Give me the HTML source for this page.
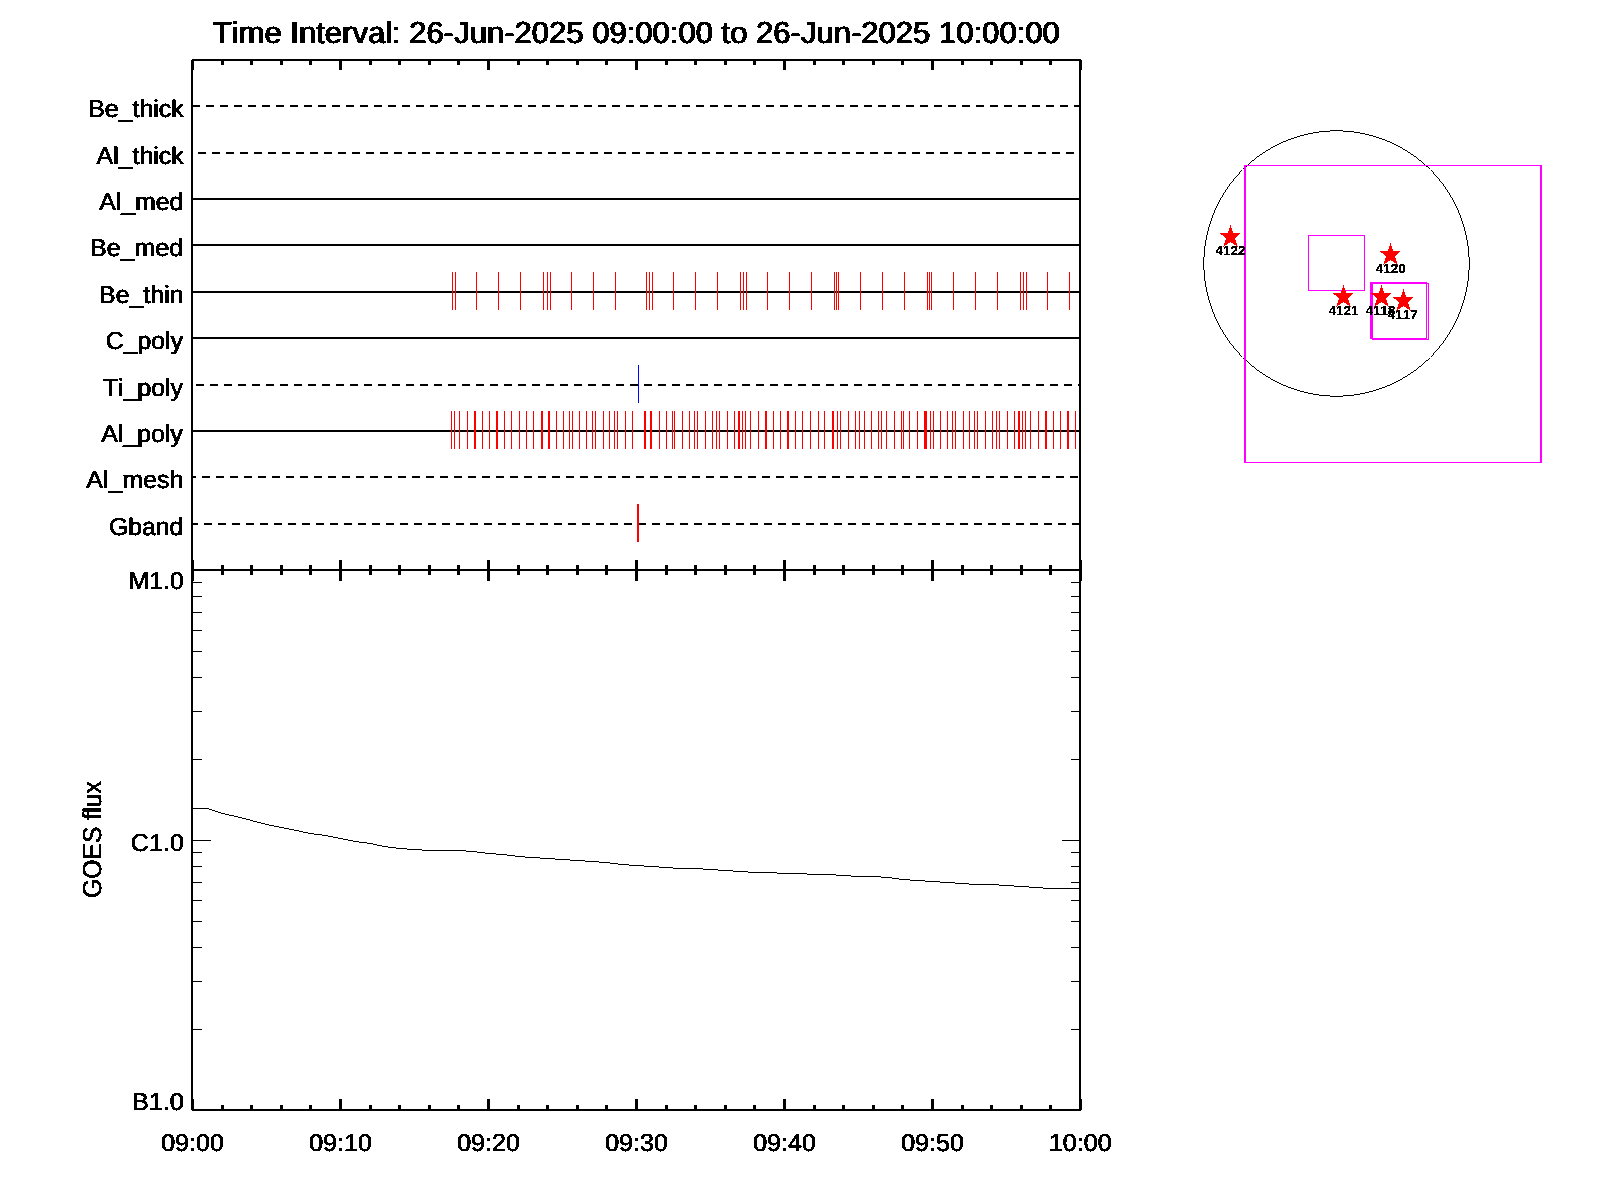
<!DOCTYPE html>
<html><head><meta charset="utf-8"><title>Time Interval plot</title>
<style>
html,body{margin:0;padding:0;background:#fff;}
body{width:1600px;height:1200px;overflow:hidden;font-family:"Liberation Sans",sans-serif;}
svg{display:block;}
text{font-family:"Liberation Sans",sans-serif;fill:#000;font-kerning:none;text-rendering:geometricPrecision;}
</style></head><body>
<svg width="1600" height="1200" viewBox="0 0 1600 1200">
<rect x="0" y="0" width="1600" height="1200" fill="#ffffff"/>
<g shape-rendering="crispEdges">
<rect x="191" y="59" width="2" height="1052" fill="#000"/>
<rect x="1079" y="59" width="2" height="1052" fill="#000"/>
<rect x="191" y="59" width="890" height="2" fill="#000"/>
<rect x="191" y="569" width="890" height="2" fill="#000"/>
<rect x="191" y="1109" width="890" height="2" fill="#000"/>
<rect x="191" y="60" width="3" height="10" fill="#000"/>
<rect x="191" y="560" width="3" height="21" fill="#000"/>
<rect x="191" y="1099" width="3" height="11" fill="#000"/>
<rect x="221" y="61" width="3" height="4" fill="#000"/>
<rect x="221" y="565" width="3" height="10" fill="#000"/>
<rect x="221" y="1105" width="3" height="4" fill="#000"/>
<rect x="250" y="61" width="3" height="4" fill="#000"/>
<rect x="250" y="565" width="3" height="10" fill="#000"/>
<rect x="250" y="1105" width="3" height="4" fill="#000"/>
<rect x="280" y="61" width="3" height="4" fill="#000"/>
<rect x="280" y="565" width="3" height="10" fill="#000"/>
<rect x="280" y="1105" width="3" height="4" fill="#000"/>
<rect x="309" y="61" width="3" height="4" fill="#000"/>
<rect x="309" y="565" width="3" height="10" fill="#000"/>
<rect x="309" y="1105" width="3" height="4" fill="#000"/>
<rect x="339" y="60" width="3" height="10" fill="#000"/>
<rect x="339" y="560" width="3" height="21" fill="#000"/>
<rect x="339" y="1099" width="3" height="11" fill="#000"/>
<rect x="369" y="61" width="3" height="4" fill="#000"/>
<rect x="369" y="565" width="3" height="10" fill="#000"/>
<rect x="369" y="1105" width="3" height="4" fill="#000"/>
<rect x="398" y="61" width="3" height="4" fill="#000"/>
<rect x="398" y="565" width="3" height="10" fill="#000"/>
<rect x="398" y="1105" width="3" height="4" fill="#000"/>
<rect x="428" y="61" width="3" height="4" fill="#000"/>
<rect x="428" y="565" width="3" height="10" fill="#000"/>
<rect x="428" y="1105" width="3" height="4" fill="#000"/>
<rect x="457" y="61" width="3" height="4" fill="#000"/>
<rect x="457" y="565" width="3" height="10" fill="#000"/>
<rect x="457" y="1105" width="3" height="4" fill="#000"/>
<rect x="487" y="60" width="3" height="10" fill="#000"/>
<rect x="487" y="560" width="3" height="21" fill="#000"/>
<rect x="487" y="1099" width="3" height="11" fill="#000"/>
<rect x="517" y="61" width="3" height="4" fill="#000"/>
<rect x="517" y="565" width="3" height="10" fill="#000"/>
<rect x="517" y="1105" width="3" height="4" fill="#000"/>
<rect x="546" y="61" width="3" height="4" fill="#000"/>
<rect x="546" y="565" width="3" height="10" fill="#000"/>
<rect x="546" y="1105" width="3" height="4" fill="#000"/>
<rect x="576" y="61" width="3" height="4" fill="#000"/>
<rect x="576" y="565" width="3" height="10" fill="#000"/>
<rect x="576" y="1105" width="3" height="4" fill="#000"/>
<rect x="605" y="61" width="3" height="4" fill="#000"/>
<rect x="605" y="565" width="3" height="10" fill="#000"/>
<rect x="605" y="1105" width="3" height="4" fill="#000"/>
<rect x="635" y="60" width="3" height="10" fill="#000"/>
<rect x="635" y="560" width="3" height="21" fill="#000"/>
<rect x="635" y="1099" width="3" height="11" fill="#000"/>
<rect x="665" y="61" width="3" height="4" fill="#000"/>
<rect x="665" y="565" width="3" height="10" fill="#000"/>
<rect x="665" y="1105" width="3" height="4" fill="#000"/>
<rect x="694" y="61" width="3" height="4" fill="#000"/>
<rect x="694" y="565" width="3" height="10" fill="#000"/>
<rect x="694" y="1105" width="3" height="4" fill="#000"/>
<rect x="724" y="61" width="3" height="4" fill="#000"/>
<rect x="724" y="565" width="3" height="10" fill="#000"/>
<rect x="724" y="1105" width="3" height="4" fill="#000"/>
<rect x="753" y="61" width="3" height="4" fill="#000"/>
<rect x="753" y="565" width="3" height="10" fill="#000"/>
<rect x="753" y="1105" width="3" height="4" fill="#000"/>
<rect x="783" y="60" width="3" height="10" fill="#000"/>
<rect x="783" y="560" width="3" height="21" fill="#000"/>
<rect x="783" y="1099" width="3" height="11" fill="#000"/>
<rect x="813" y="61" width="3" height="4" fill="#000"/>
<rect x="813" y="565" width="3" height="10" fill="#000"/>
<rect x="813" y="1105" width="3" height="4" fill="#000"/>
<rect x="842" y="61" width="3" height="4" fill="#000"/>
<rect x="842" y="565" width="3" height="10" fill="#000"/>
<rect x="842" y="1105" width="3" height="4" fill="#000"/>
<rect x="872" y="61" width="3" height="4" fill="#000"/>
<rect x="872" y="565" width="3" height="10" fill="#000"/>
<rect x="872" y="1105" width="3" height="4" fill="#000"/>
<rect x="901" y="61" width="3" height="4" fill="#000"/>
<rect x="901" y="565" width="3" height="10" fill="#000"/>
<rect x="901" y="1105" width="3" height="4" fill="#000"/>
<rect x="931" y="60" width="3" height="10" fill="#000"/>
<rect x="931" y="560" width="3" height="21" fill="#000"/>
<rect x="931" y="1099" width="3" height="11" fill="#000"/>
<rect x="961" y="61" width="3" height="4" fill="#000"/>
<rect x="961" y="565" width="3" height="10" fill="#000"/>
<rect x="961" y="1105" width="3" height="4" fill="#000"/>
<rect x="990" y="61" width="3" height="4" fill="#000"/>
<rect x="990" y="565" width="3" height="10" fill="#000"/>
<rect x="990" y="1105" width="3" height="4" fill="#000"/>
<rect x="1020" y="61" width="3" height="4" fill="#000"/>
<rect x="1020" y="565" width="3" height="10" fill="#000"/>
<rect x="1020" y="1105" width="3" height="4" fill="#000"/>
<rect x="1049" y="61" width="3" height="4" fill="#000"/>
<rect x="1049" y="565" width="3" height="10" fill="#000"/>
<rect x="1049" y="1105" width="3" height="4" fill="#000"/>
<rect x="1079" y="60" width="3" height="10" fill="#000"/>
<rect x="1079" y="560" width="3" height="21" fill="#000"/>
<rect x="1079" y="1099" width="3" height="11" fill="#000"/>
<rect x="191" y="59" width="1" height="1" fill="#fff"/>
<rect x="191" y="1110" width="1" height="1" fill="#fff"/>
<rect x="193" y="105" width="7" height="2" fill="#000"/>
<rect x="206" y="105" width="8" height="2" fill="#000"/>
<rect x="220" y="105" width="8" height="2" fill="#000"/>
<rect x="234" y="105" width="8" height="2" fill="#000"/>
<rect x="248" y="105" width="8" height="2" fill="#000"/>
<rect x="262" y="105" width="8" height="2" fill="#000"/>
<rect x="276" y="105" width="8" height="2" fill="#000"/>
<rect x="290" y="105" width="8" height="2" fill="#000"/>
<rect x="304" y="105" width="8" height="2" fill="#000"/>
<rect x="318" y="105" width="8" height="2" fill="#000"/>
<rect x="332" y="105" width="8" height="2" fill="#000"/>
<rect x="346" y="105" width="8" height="2" fill="#000"/>
<rect x="360" y="105" width="8" height="2" fill="#000"/>
<rect x="374" y="105" width="8" height="2" fill="#000"/>
<rect x="388" y="105" width="8" height="2" fill="#000"/>
<rect x="402" y="105" width="8" height="2" fill="#000"/>
<rect x="416" y="105" width="8" height="2" fill="#000"/>
<rect x="430" y="105" width="8" height="2" fill="#000"/>
<rect x="444" y="105" width="8" height="2" fill="#000"/>
<rect x="458" y="105" width="8" height="2" fill="#000"/>
<rect x="472" y="105" width="8" height="2" fill="#000"/>
<rect x="486" y="105" width="8" height="2" fill="#000"/>
<rect x="500" y="105" width="8" height="2" fill="#000"/>
<rect x="514" y="105" width="8" height="2" fill="#000"/>
<rect x="528" y="105" width="8" height="2" fill="#000"/>
<rect x="542" y="105" width="8" height="2" fill="#000"/>
<rect x="556" y="105" width="8" height="2" fill="#000"/>
<rect x="570" y="105" width="8" height="2" fill="#000"/>
<rect x="584" y="105" width="8" height="2" fill="#000"/>
<rect x="598" y="105" width="8" height="2" fill="#000"/>
<rect x="612" y="105" width="8" height="2" fill="#000"/>
<rect x="626" y="105" width="8" height="2" fill="#000"/>
<rect x="640" y="105" width="8" height="2" fill="#000"/>
<rect x="654" y="105" width="8" height="2" fill="#000"/>
<rect x="668" y="105" width="8" height="2" fill="#000"/>
<rect x="682" y="105" width="8" height="2" fill="#000"/>
<rect x="696" y="105" width="8" height="2" fill="#000"/>
<rect x="710" y="105" width="8" height="2" fill="#000"/>
<rect x="724" y="105" width="8" height="2" fill="#000"/>
<rect x="738" y="105" width="8" height="2" fill="#000"/>
<rect x="752" y="105" width="8" height="2" fill="#000"/>
<rect x="766" y="105" width="8" height="2" fill="#000"/>
<rect x="780" y="105" width="8" height="2" fill="#000"/>
<rect x="794" y="105" width="8" height="2" fill="#000"/>
<rect x="808" y="105" width="8" height="2" fill="#000"/>
<rect x="822" y="105" width="8" height="2" fill="#000"/>
<rect x="836" y="105" width="8" height="2" fill="#000"/>
<rect x="850" y="105" width="8" height="2" fill="#000"/>
<rect x="864" y="105" width="8" height="2" fill="#000"/>
<rect x="878" y="105" width="8" height="2" fill="#000"/>
<rect x="892" y="105" width="8" height="2" fill="#000"/>
<rect x="906" y="105" width="8" height="2" fill="#000"/>
<rect x="920" y="105" width="8" height="2" fill="#000"/>
<rect x="934" y="105" width="8" height="2" fill="#000"/>
<rect x="948" y="105" width="8" height="2" fill="#000"/>
<rect x="962" y="105" width="8" height="2" fill="#000"/>
<rect x="976" y="105" width="8" height="2" fill="#000"/>
<rect x="990" y="105" width="8" height="2" fill="#000"/>
<rect x="1004" y="105" width="8" height="2" fill="#000"/>
<rect x="1018" y="105" width="8" height="2" fill="#000"/>
<rect x="1032" y="105" width="8" height="2" fill="#000"/>
<rect x="1046" y="105" width="8" height="2" fill="#000"/>
<rect x="1060" y="105" width="8" height="2" fill="#000"/>
<rect x="1074" y="105" width="5" height="2" fill="#000"/>
<rect x="198" y="152" width="8" height="2" fill="#000"/>
<rect x="212" y="152" width="8" height="2" fill="#000"/>
<rect x="226" y="152" width="8" height="2" fill="#000"/>
<rect x="240" y="152" width="8" height="2" fill="#000"/>
<rect x="254" y="152" width="8" height="2" fill="#000"/>
<rect x="268" y="152" width="8" height="2" fill="#000"/>
<rect x="282" y="152" width="8" height="2" fill="#000"/>
<rect x="296" y="152" width="8" height="2" fill="#000"/>
<rect x="310" y="152" width="8" height="2" fill="#000"/>
<rect x="324" y="152" width="8" height="2" fill="#000"/>
<rect x="338" y="152" width="8" height="2" fill="#000"/>
<rect x="352" y="152" width="8" height="2" fill="#000"/>
<rect x="366" y="152" width="8" height="2" fill="#000"/>
<rect x="380" y="152" width="8" height="2" fill="#000"/>
<rect x="394" y="152" width="8" height="2" fill="#000"/>
<rect x="408" y="152" width="8" height="2" fill="#000"/>
<rect x="422" y="152" width="8" height="2" fill="#000"/>
<rect x="436" y="152" width="8" height="2" fill="#000"/>
<rect x="450" y="152" width="8" height="2" fill="#000"/>
<rect x="464" y="152" width="8" height="2" fill="#000"/>
<rect x="478" y="152" width="8" height="2" fill="#000"/>
<rect x="492" y="152" width="8" height="2" fill="#000"/>
<rect x="506" y="152" width="8" height="2" fill="#000"/>
<rect x="520" y="152" width="8" height="2" fill="#000"/>
<rect x="534" y="152" width="8" height="2" fill="#000"/>
<rect x="548" y="152" width="8" height="2" fill="#000"/>
<rect x="562" y="152" width="8" height="2" fill="#000"/>
<rect x="576" y="152" width="8" height="2" fill="#000"/>
<rect x="590" y="152" width="8" height="2" fill="#000"/>
<rect x="604" y="152" width="8" height="2" fill="#000"/>
<rect x="618" y="152" width="8" height="2" fill="#000"/>
<rect x="632" y="152" width="8" height="2" fill="#000"/>
<rect x="646" y="152" width="8" height="2" fill="#000"/>
<rect x="660" y="152" width="8" height="2" fill="#000"/>
<rect x="674" y="152" width="8" height="2" fill="#000"/>
<rect x="688" y="152" width="8" height="2" fill="#000"/>
<rect x="702" y="152" width="8" height="2" fill="#000"/>
<rect x="716" y="152" width="8" height="2" fill="#000"/>
<rect x="730" y="152" width="8" height="2" fill="#000"/>
<rect x="744" y="152" width="8" height="2" fill="#000"/>
<rect x="758" y="152" width="8" height="2" fill="#000"/>
<rect x="772" y="152" width="8" height="2" fill="#000"/>
<rect x="786" y="152" width="8" height="2" fill="#000"/>
<rect x="800" y="152" width="8" height="2" fill="#000"/>
<rect x="814" y="152" width="8" height="2" fill="#000"/>
<rect x="828" y="152" width="8" height="2" fill="#000"/>
<rect x="842" y="152" width="8" height="2" fill="#000"/>
<rect x="856" y="152" width="8" height="2" fill="#000"/>
<rect x="870" y="152" width="8" height="2" fill="#000"/>
<rect x="884" y="152" width="8" height="2" fill="#000"/>
<rect x="898" y="152" width="8" height="2" fill="#000"/>
<rect x="912" y="152" width="8" height="2" fill="#000"/>
<rect x="926" y="152" width="8" height="2" fill="#000"/>
<rect x="940" y="152" width="8" height="2" fill="#000"/>
<rect x="954" y="152" width="8" height="2" fill="#000"/>
<rect x="968" y="152" width="8" height="2" fill="#000"/>
<rect x="982" y="152" width="8" height="2" fill="#000"/>
<rect x="996" y="152" width="8" height="2" fill="#000"/>
<rect x="1010" y="152" width="8" height="2" fill="#000"/>
<rect x="1024" y="152" width="8" height="2" fill="#000"/>
<rect x="1038" y="152" width="8" height="2" fill="#000"/>
<rect x="1052" y="152" width="8" height="2" fill="#000"/>
<rect x="1066" y="152" width="8" height="2" fill="#000"/>
<rect x="193" y="198" width="886" height="2" fill="#000"/>
<rect x="193" y="244" width="886" height="2" fill="#000"/>
<rect x="193" y="291" width="886" height="2" fill="#000"/>
<rect x="193" y="337" width="886" height="2" fill="#000"/>
<rect x="196" y="384" width="8" height="2" fill="#000"/>
<rect x="210" y="384" width="8" height="2" fill="#000"/>
<rect x="224" y="384" width="8" height="2" fill="#000"/>
<rect x="238" y="384" width="8" height="2" fill="#000"/>
<rect x="252" y="384" width="8" height="2" fill="#000"/>
<rect x="266" y="384" width="8" height="2" fill="#000"/>
<rect x="280" y="384" width="8" height="2" fill="#000"/>
<rect x="294" y="384" width="8" height="2" fill="#000"/>
<rect x="308" y="384" width="8" height="2" fill="#000"/>
<rect x="322" y="384" width="8" height="2" fill="#000"/>
<rect x="336" y="384" width="8" height="2" fill="#000"/>
<rect x="350" y="384" width="8" height="2" fill="#000"/>
<rect x="364" y="384" width="8" height="2" fill="#000"/>
<rect x="378" y="384" width="8" height="2" fill="#000"/>
<rect x="392" y="384" width="8" height="2" fill="#000"/>
<rect x="406" y="384" width="8" height="2" fill="#000"/>
<rect x="420" y="384" width="8" height="2" fill="#000"/>
<rect x="434" y="384" width="8" height="2" fill="#000"/>
<rect x="448" y="384" width="8" height="2" fill="#000"/>
<rect x="462" y="384" width="8" height="2" fill="#000"/>
<rect x="476" y="384" width="8" height="2" fill="#000"/>
<rect x="490" y="384" width="8" height="2" fill="#000"/>
<rect x="504" y="384" width="8" height="2" fill="#000"/>
<rect x="518" y="384" width="8" height="2" fill="#000"/>
<rect x="532" y="384" width="8" height="2" fill="#000"/>
<rect x="546" y="384" width="8" height="2" fill="#000"/>
<rect x="560" y="384" width="8" height="2" fill="#000"/>
<rect x="574" y="384" width="8" height="2" fill="#000"/>
<rect x="588" y="384" width="8" height="2" fill="#000"/>
<rect x="602" y="384" width="8" height="2" fill="#000"/>
<rect x="616" y="384" width="8" height="2" fill="#000"/>
<rect x="630" y="384" width="8" height="2" fill="#000"/>
<rect x="644" y="384" width="8" height="2" fill="#000"/>
<rect x="658" y="384" width="8" height="2" fill="#000"/>
<rect x="672" y="384" width="8" height="2" fill="#000"/>
<rect x="686" y="384" width="8" height="2" fill="#000"/>
<rect x="700" y="384" width="8" height="2" fill="#000"/>
<rect x="714" y="384" width="8" height="2" fill="#000"/>
<rect x="728" y="384" width="8" height="2" fill="#000"/>
<rect x="742" y="384" width="8" height="2" fill="#000"/>
<rect x="756" y="384" width="8" height="2" fill="#000"/>
<rect x="770" y="384" width="8" height="2" fill="#000"/>
<rect x="784" y="384" width="8" height="2" fill="#000"/>
<rect x="798" y="384" width="8" height="2" fill="#000"/>
<rect x="812" y="384" width="8" height="2" fill="#000"/>
<rect x="826" y="384" width="8" height="2" fill="#000"/>
<rect x="840" y="384" width="8" height="2" fill="#000"/>
<rect x="854" y="384" width="8" height="2" fill="#000"/>
<rect x="868" y="384" width="8" height="2" fill="#000"/>
<rect x="882" y="384" width="8" height="2" fill="#000"/>
<rect x="896" y="384" width="8" height="2" fill="#000"/>
<rect x="910" y="384" width="8" height="2" fill="#000"/>
<rect x="924" y="384" width="8" height="2" fill="#000"/>
<rect x="938" y="384" width="8" height="2" fill="#000"/>
<rect x="952" y="384" width="8" height="2" fill="#000"/>
<rect x="966" y="384" width="8" height="2" fill="#000"/>
<rect x="980" y="384" width="8" height="2" fill="#000"/>
<rect x="994" y="384" width="8" height="2" fill="#000"/>
<rect x="1008" y="384" width="8" height="2" fill="#000"/>
<rect x="1022" y="384" width="8" height="2" fill="#000"/>
<rect x="1036" y="384" width="8" height="2" fill="#000"/>
<rect x="1050" y="384" width="8" height="2" fill="#000"/>
<rect x="1064" y="384" width="8" height="2" fill="#000"/>
<rect x="1078" y="384" width="1" height="2" fill="#000"/>
<rect x="193" y="430" width="886" height="2" fill="#000"/>
<rect x="193" y="476" width="3" height="2" fill="#000"/>
<rect x="202" y="476" width="8" height="2" fill="#000"/>
<rect x="216" y="476" width="8" height="2" fill="#000"/>
<rect x="230" y="476" width="8" height="2" fill="#000"/>
<rect x="244" y="476" width="8" height="2" fill="#000"/>
<rect x="258" y="476" width="8" height="2" fill="#000"/>
<rect x="272" y="476" width="8" height="2" fill="#000"/>
<rect x="286" y="476" width="8" height="2" fill="#000"/>
<rect x="300" y="476" width="8" height="2" fill="#000"/>
<rect x="314" y="476" width="8" height="2" fill="#000"/>
<rect x="328" y="476" width="8" height="2" fill="#000"/>
<rect x="342" y="476" width="8" height="2" fill="#000"/>
<rect x="356" y="476" width="8" height="2" fill="#000"/>
<rect x="370" y="476" width="8" height="2" fill="#000"/>
<rect x="384" y="476" width="8" height="2" fill="#000"/>
<rect x="398" y="476" width="8" height="2" fill="#000"/>
<rect x="412" y="476" width="8" height="2" fill="#000"/>
<rect x="426" y="476" width="8" height="2" fill="#000"/>
<rect x="440" y="476" width="8" height="2" fill="#000"/>
<rect x="454" y="476" width="8" height="2" fill="#000"/>
<rect x="468" y="476" width="8" height="2" fill="#000"/>
<rect x="482" y="476" width="8" height="2" fill="#000"/>
<rect x="496" y="476" width="8" height="2" fill="#000"/>
<rect x="510" y="476" width="8" height="2" fill="#000"/>
<rect x="524" y="476" width="8" height="2" fill="#000"/>
<rect x="538" y="476" width="8" height="2" fill="#000"/>
<rect x="552" y="476" width="8" height="2" fill="#000"/>
<rect x="566" y="476" width="8" height="2" fill="#000"/>
<rect x="580" y="476" width="8" height="2" fill="#000"/>
<rect x="594" y="476" width="8" height="2" fill="#000"/>
<rect x="608" y="476" width="8" height="2" fill="#000"/>
<rect x="622" y="476" width="8" height="2" fill="#000"/>
<rect x="636" y="476" width="8" height="2" fill="#000"/>
<rect x="650" y="476" width="8" height="2" fill="#000"/>
<rect x="664" y="476" width="8" height="2" fill="#000"/>
<rect x="678" y="476" width="8" height="2" fill="#000"/>
<rect x="692" y="476" width="8" height="2" fill="#000"/>
<rect x="706" y="476" width="8" height="2" fill="#000"/>
<rect x="720" y="476" width="8" height="2" fill="#000"/>
<rect x="734" y="476" width="8" height="2" fill="#000"/>
<rect x="748" y="476" width="8" height="2" fill="#000"/>
<rect x="762" y="476" width="8" height="2" fill="#000"/>
<rect x="776" y="476" width="8" height="2" fill="#000"/>
<rect x="790" y="476" width="8" height="2" fill="#000"/>
<rect x="804" y="476" width="8" height="2" fill="#000"/>
<rect x="818" y="476" width="8" height="2" fill="#000"/>
<rect x="832" y="476" width="8" height="2" fill="#000"/>
<rect x="846" y="476" width="8" height="2" fill="#000"/>
<rect x="860" y="476" width="8" height="2" fill="#000"/>
<rect x="874" y="476" width="8" height="2" fill="#000"/>
<rect x="888" y="476" width="8" height="2" fill="#000"/>
<rect x="902" y="476" width="8" height="2" fill="#000"/>
<rect x="916" y="476" width="8" height="2" fill="#000"/>
<rect x="930" y="476" width="8" height="2" fill="#000"/>
<rect x="944" y="476" width="8" height="2" fill="#000"/>
<rect x="958" y="476" width="8" height="2" fill="#000"/>
<rect x="972" y="476" width="8" height="2" fill="#000"/>
<rect x="986" y="476" width="8" height="2" fill="#000"/>
<rect x="1000" y="476" width="8" height="2" fill="#000"/>
<rect x="1014" y="476" width="8" height="2" fill="#000"/>
<rect x="1028" y="476" width="8" height="2" fill="#000"/>
<rect x="1042" y="476" width="8" height="2" fill="#000"/>
<rect x="1056" y="476" width="8" height="2" fill="#000"/>
<rect x="1070" y="476" width="8" height="2" fill="#000"/>
<rect x="193" y="523" width="5" height="2" fill="#000"/>
<rect x="204" y="523" width="8" height="2" fill="#000"/>
<rect x="218" y="523" width="8" height="2" fill="#000"/>
<rect x="232" y="523" width="8" height="2" fill="#000"/>
<rect x="246" y="523" width="8" height="2" fill="#000"/>
<rect x="260" y="523" width="8" height="2" fill="#000"/>
<rect x="274" y="523" width="8" height="2" fill="#000"/>
<rect x="288" y="523" width="8" height="2" fill="#000"/>
<rect x="302" y="523" width="8" height="2" fill="#000"/>
<rect x="316" y="523" width="8" height="2" fill="#000"/>
<rect x="330" y="523" width="8" height="2" fill="#000"/>
<rect x="344" y="523" width="8" height="2" fill="#000"/>
<rect x="358" y="523" width="8" height="2" fill="#000"/>
<rect x="372" y="523" width="8" height="2" fill="#000"/>
<rect x="386" y="523" width="8" height="2" fill="#000"/>
<rect x="400" y="523" width="8" height="2" fill="#000"/>
<rect x="414" y="523" width="8" height="2" fill="#000"/>
<rect x="428" y="523" width="8" height="2" fill="#000"/>
<rect x="442" y="523" width="8" height="2" fill="#000"/>
<rect x="456" y="523" width="8" height="2" fill="#000"/>
<rect x="470" y="523" width="8" height="2" fill="#000"/>
<rect x="484" y="523" width="8" height="2" fill="#000"/>
<rect x="498" y="523" width="8" height="2" fill="#000"/>
<rect x="512" y="523" width="8" height="2" fill="#000"/>
<rect x="526" y="523" width="8" height="2" fill="#000"/>
<rect x="540" y="523" width="8" height="2" fill="#000"/>
<rect x="554" y="523" width="8" height="2" fill="#000"/>
<rect x="568" y="523" width="8" height="2" fill="#000"/>
<rect x="582" y="523" width="8" height="2" fill="#000"/>
<rect x="596" y="523" width="8" height="2" fill="#000"/>
<rect x="610" y="523" width="8" height="2" fill="#000"/>
<rect x="624" y="523" width="8" height="2" fill="#000"/>
<rect x="638" y="523" width="8" height="2" fill="#000"/>
<rect x="652" y="523" width="8" height="2" fill="#000"/>
<rect x="666" y="523" width="8" height="2" fill="#000"/>
<rect x="680" y="523" width="8" height="2" fill="#000"/>
<rect x="694" y="523" width="8" height="2" fill="#000"/>
<rect x="708" y="523" width="8" height="2" fill="#000"/>
<rect x="722" y="523" width="8" height="2" fill="#000"/>
<rect x="736" y="523" width="8" height="2" fill="#000"/>
<rect x="750" y="523" width="8" height="2" fill="#000"/>
<rect x="764" y="523" width="8" height="2" fill="#000"/>
<rect x="778" y="523" width="8" height="2" fill="#000"/>
<rect x="792" y="523" width="8" height="2" fill="#000"/>
<rect x="806" y="523" width="8" height="2" fill="#000"/>
<rect x="820" y="523" width="8" height="2" fill="#000"/>
<rect x="834" y="523" width="8" height="2" fill="#000"/>
<rect x="848" y="523" width="8" height="2" fill="#000"/>
<rect x="862" y="523" width="8" height="2" fill="#000"/>
<rect x="876" y="523" width="8" height="2" fill="#000"/>
<rect x="890" y="523" width="8" height="2" fill="#000"/>
<rect x="904" y="523" width="8" height="2" fill="#000"/>
<rect x="918" y="523" width="8" height="2" fill="#000"/>
<rect x="932" y="523" width="8" height="2" fill="#000"/>
<rect x="946" y="523" width="8" height="2" fill="#000"/>
<rect x="960" y="523" width="8" height="2" fill="#000"/>
<rect x="974" y="523" width="8" height="2" fill="#000"/>
<rect x="988" y="523" width="8" height="2" fill="#000"/>
<rect x="1002" y="523" width="8" height="2" fill="#000"/>
<rect x="1016" y="523" width="8" height="2" fill="#000"/>
<rect x="1030" y="523" width="8" height="2" fill="#000"/>
<rect x="1044" y="523" width="8" height="2" fill="#000"/>
<rect x="1058" y="523" width="8" height="2" fill="#000"/>
<rect x="1072" y="523" width="7" height="2" fill="#000"/>
</g>
<g shape-rendering="crispEdges">
<rect x="452" y="272" width="1" height="38" fill="#ff0000"/>
<rect x="455" y="272" width="1" height="38" fill="#ff0000"/>
<rect x="476" y="272" width="1" height="38" fill="#ff0000"/>
<rect x="498" y="272" width="1" height="38" fill="#ff0000"/>
<rect x="520" y="272" width="1" height="38" fill="#ff0000"/>
<rect x="543" y="272" width="1" height="38" fill="#ff0000"/>
<rect x="547" y="272" width="1" height="38" fill="#ff0000"/>
<rect x="550" y="272" width="1" height="38" fill="#ff0000"/>
<rect x="571" y="272" width="1" height="38" fill="#ff0000"/>
<rect x="593" y="272" width="1" height="38" fill="#ff0000"/>
<rect x="615" y="272" width="1" height="38" fill="#ff0000"/>
<rect x="646" y="272" width="1" height="38" fill="#ff0000"/>
<rect x="649" y="272" width="1" height="38" fill="#ff0000"/>
<rect x="652" y="272" width="1" height="38" fill="#ff0000"/>
<rect x="673" y="272" width="1" height="38" fill="#ff0000"/>
<rect x="695" y="272" width="1" height="38" fill="#ff0000"/>
<rect x="717" y="272" width="1" height="38" fill="#ff0000"/>
<rect x="740" y="272" width="1" height="38" fill="#ff0000"/>
<rect x="743" y="272" width="1" height="38" fill="#ff0000"/>
<rect x="746" y="272" width="1" height="38" fill="#ff0000"/>
<rect x="767" y="272" width="1" height="38" fill="#ff0000"/>
<rect x="789" y="272" width="1" height="38" fill="#ff0000"/>
<rect x="811" y="272" width="1" height="38" fill="#ff0000"/>
<rect x="834" y="272" width="1" height="38" fill="#ff0000"/>
<rect x="836" y="272" width="1" height="38" fill="#ff0000"/>
<rect x="838" y="272" width="1" height="38" fill="#ff0000"/>
<rect x="860" y="272" width="1" height="38" fill="#ff0000"/>
<rect x="882" y="272" width="1" height="38" fill="#ff0000"/>
<rect x="904" y="272" width="1" height="38" fill="#ff0000"/>
<rect x="927" y="272" width="1" height="38" fill="#ff0000"/>
<rect x="929" y="272" width="1" height="38" fill="#ff0000"/>
<rect x="931" y="272" width="1" height="38" fill="#ff0000"/>
<rect x="953" y="272" width="1" height="38" fill="#ff0000"/>
<rect x="975" y="272" width="1" height="38" fill="#ff0000"/>
<rect x="997" y="272" width="1" height="38" fill="#ff0000"/>
<rect x="1020" y="272" width="1" height="38" fill="#ff0000"/>
<rect x="1023" y="272" width="1" height="38" fill="#ff0000"/>
<rect x="1026" y="272" width="1" height="38" fill="#ff0000"/>
<rect x="1047" y="272" width="1" height="38" fill="#ff0000"/>
<rect x="1069" y="272" width="1" height="38" fill="#ff0000"/>
<rect x="451" y="411" width="1" height="38" fill="#ff0000"/>
<rect x="454" y="411" width="1" height="38" fill="#ff0000"/>
<rect x="459" y="411" width="1" height="38" fill="#ff0000"/>
<rect x="467" y="411" width="1" height="38" fill="#ff0000"/>
<rect x="474" y="411" width="2" height="38" fill="#ff0000"/>
<rect x="482" y="411" width="1" height="38" fill="#ff0000"/>
<rect x="489" y="411" width="1" height="38" fill="#ff0000"/>
<rect x="496" y="411" width="2" height="38" fill="#ff0000"/>
<rect x="504" y="411" width="1" height="38" fill="#ff0000"/>
<rect x="511" y="411" width="1" height="38" fill="#ff0000"/>
<rect x="519" y="411" width="1" height="38" fill="#ff0000"/>
<rect x="526" y="411" width="1" height="38" fill="#ff0000"/>
<rect x="533" y="411" width="1" height="38" fill="#ff0000"/>
<rect x="541" y="411" width="2" height="38" fill="#ff0000"/>
<rect x="548" y="411" width="2" height="38" fill="#ff0000"/>
<rect x="556" y="411" width="1" height="38" fill="#ff0000"/>
<rect x="563" y="411" width="1" height="38" fill="#ff0000"/>
<rect x="569" y="411" width="1" height="38" fill="#ff0000"/>
<rect x="572" y="411" width="1" height="38" fill="#ff0000"/>
<rect x="579" y="411" width="1" height="38" fill="#ff0000"/>
<rect x="586" y="411" width="1" height="38" fill="#ff0000"/>
<rect x="592" y="411" width="1" height="38" fill="#ff0000"/>
<rect x="595" y="411" width="1" height="38" fill="#ff0000"/>
<rect x="603" y="411" width="1" height="38" fill="#ff0000"/>
<rect x="609" y="411" width="1" height="38" fill="#ff0000"/>
<rect x="614" y="411" width="1" height="38" fill="#ff0000"/>
<rect x="617" y="411" width="1" height="38" fill="#ff0000"/>
<rect x="625" y="411" width="1" height="38" fill="#ff0000"/>
<rect x="632" y="411" width="1" height="38" fill="#ff0000"/>
<rect x="644" y="411" width="2" height="38" fill="#ff0000"/>
<rect x="650" y="411" width="2" height="38" fill="#ff0000"/>
<rect x="659" y="411" width="1" height="38" fill="#ff0000"/>
<rect x="666" y="411" width="1" height="38" fill="#ff0000"/>
<rect x="672" y="411" width="1" height="38" fill="#ff0000"/>
<rect x="674" y="411" width="1" height="38" fill="#ff0000"/>
<rect x="682" y="411" width="1" height="38" fill="#ff0000"/>
<rect x="689" y="411" width="1" height="38" fill="#ff0000"/>
<rect x="694" y="411" width="1" height="38" fill="#ff0000"/>
<rect x="697" y="411" width="1" height="38" fill="#ff0000"/>
<rect x="705" y="411" width="1" height="38" fill="#ff0000"/>
<rect x="712" y="411" width="1" height="38" fill="#ff0000"/>
<rect x="716" y="411" width="1" height="38" fill="#ff0000"/>
<rect x="719" y="411" width="1" height="38" fill="#ff0000"/>
<rect x="727" y="411" width="1" height="38" fill="#ff0000"/>
<rect x="734" y="411" width="1" height="38" fill="#ff0000"/>
<rect x="738" y="411" width="2" height="38" fill="#ff0000"/>
<rect x="742" y="411" width="1" height="38" fill="#ff0000"/>
<rect x="745" y="411" width="1" height="38" fill="#ff0000"/>
<rect x="750" y="411" width="1" height="38" fill="#ff0000"/>
<rect x="758" y="411" width="1" height="38" fill="#ff0000"/>
<rect x="765" y="411" width="2" height="38" fill="#ff0000"/>
<rect x="773" y="411" width="1" height="38" fill="#ff0000"/>
<rect x="780" y="411" width="1" height="38" fill="#ff0000"/>
<rect x="787" y="411" width="2" height="38" fill="#ff0000"/>
<rect x="795" y="411" width="1" height="38" fill="#ff0000"/>
<rect x="802" y="411" width="1" height="38" fill="#ff0000"/>
<rect x="810" y="411" width="1" height="38" fill="#ff0000"/>
<rect x="818" y="411" width="1" height="38" fill="#ff0000"/>
<rect x="824" y="411" width="1" height="38" fill="#ff0000"/>
<rect x="832" y="411" width="2" height="38" fill="#ff0000"/>
<rect x="837" y="411" width="1" height="38" fill="#ff0000"/>
<rect x="840" y="411" width="1" height="38" fill="#ff0000"/>
<rect x="848" y="411" width="1" height="38" fill="#ff0000"/>
<rect x="855" y="411" width="1" height="38" fill="#ff0000"/>
<rect x="859" y="411" width="1" height="38" fill="#ff0000"/>
<rect x="864" y="411" width="1" height="38" fill="#ff0000"/>
<rect x="871" y="411" width="1" height="38" fill="#ff0000"/>
<rect x="878" y="411" width="1" height="38" fill="#ff0000"/>
<rect x="881" y="411" width="1" height="38" fill="#ff0000"/>
<rect x="886" y="411" width="1" height="38" fill="#ff0000"/>
<rect x="894" y="411" width="1" height="38" fill="#ff0000"/>
<rect x="901" y="411" width="1" height="38" fill="#ff0000"/>
<rect x="903" y="411" width="1" height="38" fill="#ff0000"/>
<rect x="909" y="411" width="1" height="38" fill="#ff0000"/>
<rect x="917" y="411" width="1" height="38" fill="#ff0000"/>
<rect x="924" y="411" width="3" height="38" fill="#ff0000"/>
<rect x="930" y="411" width="1" height="38" fill="#ff0000"/>
<rect x="933" y="411" width="1" height="38" fill="#ff0000"/>
<rect x="940" y="411" width="1" height="38" fill="#ff0000"/>
<rect x="947" y="411" width="1" height="38" fill="#ff0000"/>
<rect x="952" y="411" width="1" height="38" fill="#ff0000"/>
<rect x="955" y="411" width="1" height="38" fill="#ff0000"/>
<rect x="963" y="411" width="1" height="38" fill="#ff0000"/>
<rect x="969" y="411" width="1" height="38" fill="#ff0000"/>
<rect x="974" y="411" width="1" height="38" fill="#ff0000"/>
<rect x="977" y="411" width="1" height="38" fill="#ff0000"/>
<rect x="985" y="411" width="1" height="38" fill="#ff0000"/>
<rect x="992" y="411" width="1" height="38" fill="#ff0000"/>
<rect x="996" y="411" width="1" height="38" fill="#ff0000"/>
<rect x="999" y="411" width="1" height="38" fill="#ff0000"/>
<rect x="1007" y="411" width="1" height="38" fill="#ff0000"/>
<rect x="1014" y="411" width="1" height="38" fill="#ff0000"/>
<rect x="1018" y="411" width="2" height="38" fill="#ff0000"/>
<rect x="1022" y="411" width="1" height="38" fill="#ff0000"/>
<rect x="1025" y="411" width="1" height="38" fill="#ff0000"/>
<rect x="1030" y="411" width="1" height="38" fill="#ff0000"/>
<rect x="1038" y="411" width="1" height="38" fill="#ff0000"/>
<rect x="1045" y="411" width="2" height="38" fill="#ff0000"/>
<rect x="1053" y="411" width="1" height="38" fill="#ff0000"/>
<rect x="1060" y="411" width="1" height="38" fill="#ff0000"/>
<rect x="1067" y="411" width="2" height="38" fill="#ff0000"/>
<rect x="1075" y="411" width="1" height="38" fill="#ff0000"/>
<rect x="638" y="365" width="1" height="38" fill="#0000ff"/>
<rect x="637" y="504" width="2" height="38" fill="#ff0000"/>
<rect x="193" y="840" width="18" height="1" fill="#000"/>
<rect x="1062" y="840" width="17" height="1" fill="#000"/>
<rect x="193" y="759" width="9" height="1" fill="#000"/>
<rect x="1071" y="759" width="8" height="1" fill="#000"/>
<rect x="193" y="711" width="9" height="1" fill="#000"/>
<rect x="1071" y="711" width="8" height="1" fill="#000"/>
<rect x="193" y="677" width="9" height="1" fill="#000"/>
<rect x="1071" y="677" width="8" height="1" fill="#000"/>
<rect x="193" y="651" width="9" height="1" fill="#000"/>
<rect x="1071" y="651" width="8" height="1" fill="#000"/>
<rect x="193" y="630" width="9" height="1" fill="#000"/>
<rect x="1071" y="630" width="8" height="1" fill="#000"/>
<rect x="193" y="612" width="9" height="1" fill="#000"/>
<rect x="1071" y="612" width="8" height="1" fill="#000"/>
<rect x="193" y="596" width="9" height="1" fill="#000"/>
<rect x="1071" y="596" width="8" height="1" fill="#000"/>
<rect x="193" y="582" width="9" height="1" fill="#000"/>
<rect x="1071" y="582" width="8" height="1" fill="#000"/>
<rect x="193" y="1029" width="9" height="1" fill="#000"/>
<rect x="1071" y="1029" width="8" height="1" fill="#000"/>
<rect x="193" y="981" width="9" height="1" fill="#000"/>
<rect x="1071" y="981" width="8" height="1" fill="#000"/>
<rect x="193" y="947" width="9" height="1" fill="#000"/>
<rect x="1071" y="947" width="8" height="1" fill="#000"/>
<rect x="193" y="921" width="9" height="1" fill="#000"/>
<rect x="1071" y="921" width="8" height="1" fill="#000"/>
<rect x="193" y="900" width="9" height="1" fill="#000"/>
<rect x="1071" y="900" width="8" height="1" fill="#000"/>
<rect x="193" y="882" width="9" height="1" fill="#000"/>
<rect x="1071" y="882" width="8" height="1" fill="#000"/>
<rect x="193" y="866" width="9" height="1" fill="#000"/>
<rect x="1071" y="866" width="8" height="1" fill="#000"/>
<rect x="193" y="852" width="9" height="1" fill="#000"/>
<rect x="1071" y="852" width="8" height="1" fill="#000"/>
</g>
<g shape-rendering="crispEdges">
<rect x="193" y="808" width="16" height="1" fill="#000"/>
<rect x="209" y="809" width="3" height="1" fill="#000"/>
<rect x="212" y="810" width="3" height="1" fill="#000"/>
<rect x="215" y="811" width="3" height="1" fill="#000"/>
<rect x="218" y="812" width="3" height="1" fill="#000"/>
<rect x="221" y="813" width="4" height="1" fill="#000"/>
<rect x="225" y="814" width="4" height="1" fill="#000"/>
<rect x="229" y="815" width="5" height="1" fill="#000"/>
<rect x="234" y="816" width="4" height="1" fill="#000"/>
<rect x="238" y="817" width="4" height="1" fill="#000"/>
<rect x="242" y="818" width="4" height="1" fill="#000"/>
<rect x="246" y="819" width="4" height="1" fill="#000"/>
<rect x="250" y="820" width="3" height="1" fill="#000"/>
<rect x="253" y="821" width="4" height="1" fill="#000"/>
<rect x="257" y="822" width="4" height="1" fill="#000"/>
<rect x="261" y="823" width="4" height="1" fill="#000"/>
<rect x="265" y="824" width="4" height="1" fill="#000"/>
<rect x="269" y="825" width="5" height="1" fill="#000"/>
<rect x="274" y="826" width="5" height="1" fill="#000"/>
<rect x="279" y="827" width="5" height="1" fill="#000"/>
<rect x="284" y="828" width="5" height="1" fill="#000"/>
<rect x="289" y="829" width="5" height="1" fill="#000"/>
<rect x="294" y="830" width="5" height="1" fill="#000"/>
<rect x="299" y="831" width="4" height="1" fill="#000"/>
<rect x="303" y="832" width="5" height="1" fill="#000"/>
<rect x="308" y="833" width="6" height="1" fill="#000"/>
<rect x="314" y="834" width="8" height="1" fill="#000"/>
<rect x="322" y="835" width="6" height="1" fill="#000"/>
<rect x="328" y="836" width="5" height="1" fill="#000"/>
<rect x="333" y="837" width="5" height="1" fill="#000"/>
<rect x="338" y="838" width="5" height="1" fill="#000"/>
<rect x="343" y="839" width="5" height="1" fill="#000"/>
<rect x="348" y="840" width="5" height="1" fill="#000"/>
<rect x="353" y="841" width="6" height="1" fill="#000"/>
<rect x="359" y="842" width="8" height="1" fill="#000"/>
<rect x="367" y="843" width="6" height="1" fill="#000"/>
<rect x="373" y="844" width="4" height="1" fill="#000"/>
<rect x="377" y="845" width="5" height="1" fill="#000"/>
<rect x="382" y="846" width="6" height="1" fill="#000"/>
<rect x="388" y="847" width="8" height="1" fill="#000"/>
<rect x="396" y="848" width="11" height="1" fill="#000"/>
<rect x="407" y="849" width="15" height="1" fill="#000"/>
<rect x="422" y="850" width="44" height="1" fill="#000"/>
<rect x="466" y="851" width="11" height="1" fill="#000"/>
<rect x="477" y="852" width="8" height="1" fill="#000"/>
<rect x="485" y="853" width="11" height="1" fill="#000"/>
<rect x="496" y="854" width="11" height="1" fill="#000"/>
<rect x="507" y="855" width="8" height="1" fill="#000"/>
<rect x="515" y="856" width="10" height="1" fill="#000"/>
<rect x="525" y="857" width="15" height="1" fill="#000"/>
<rect x="540" y="858" width="15" height="1" fill="#000"/>
<rect x="555" y="859" width="15" height="1" fill="#000"/>
<rect x="570" y="860" width="15" height="1" fill="#000"/>
<rect x="585" y="861" width="14" height="1" fill="#000"/>
<rect x="599" y="862" width="11" height="1" fill="#000"/>
<rect x="610" y="863" width="8" height="1" fill="#000"/>
<rect x="618" y="864" width="11" height="1" fill="#000"/>
<rect x="629" y="865" width="15" height="1" fill="#000"/>
<rect x="644" y="866" width="15" height="1" fill="#000"/>
<rect x="659" y="867" width="14" height="1" fill="#000"/>
<rect x="673" y="868" width="30" height="1" fill="#000"/>
<rect x="703" y="869" width="15" height="1" fill="#000"/>
<rect x="718" y="870" width="15" height="1" fill="#000"/>
<rect x="733" y="871" width="15" height="1" fill="#000"/>
<rect x="748" y="872" width="29" height="1" fill="#000"/>
<rect x="777" y="873" width="30" height="1" fill="#000"/>
<rect x="807" y="874" width="29" height="1" fill="#000"/>
<rect x="836" y="875" width="15" height="1" fill="#000"/>
<rect x="851" y="876" width="30" height="1" fill="#000"/>
<rect x="881" y="877" width="11" height="1" fill="#000"/>
<rect x="892" y="878" width="7" height="1" fill="#000"/>
<rect x="899" y="879" width="11" height="1" fill="#000"/>
<rect x="910" y="880" width="15" height="1" fill="#000"/>
<rect x="925" y="881" width="15" height="1" fill="#000"/>
<rect x="940" y="882" width="15" height="1" fill="#000"/>
<rect x="955" y="883" width="14" height="1" fill="#000"/>
<rect x="969" y="884" width="30" height="1" fill="#000"/>
<rect x="999" y="885" width="15" height="1" fill="#000"/>
<rect x="1014" y="886" width="15" height="1" fill="#000"/>
<rect x="1029" y="887" width="14" height="1" fill="#000"/>
<rect x="1043" y="888" width="36" height="1" fill="#000"/>
</g>
<g shape-rendering="crispEdges" fill="none">
<path d="M1257 370h2v1h-2zM1414 370h2v1h-2zM1319 395h11v1h-11zM1343 395h11v1h-11zM1300 135h4v1h-4zM1369 135h4v1h-4zM1319 131h11v1h-11zM1343 131h11v1h-11zM1300 391h4v1h-4zM1369 391h4v1h-4zM1266 150h2v1h-2zM1405 150h2v1h-2zM1297 136h3v1h-3zM1373 136h3v1h-3zM1313 132h6v1h-6zM1354 132h6v1h-6zM1291 138h3v1h-3zM1379 138h3v1h-3zM1304 392h4v1h-4zM1365 392h4v1h-4zM1288 387h3v1h-3zM1382 387h3v1h-3zM1288 139h3v1h-3zM1382 139h3v1h-3zM1308 393h5v1h-5zM1360 393h5v1h-5zM1268 149h2v1h-2zM1403 149h2v1h-2zM1260 154h2v1h-2zM1411 154h2v1h-2zM1294 137h3v1h-3zM1376 137h3v1h-3zM1330 130h13v1h-13zM1273 380h2v1h-2zM1398 380h2v1h-2zM1252 160h2v1h-2zM1419 160h2v1h-2zM1283 385h3v1h-3zM1387 385h3v1h-3zM1275 381h2v1h-2zM1396 381h2v1h-2zM1308 133h5v1h-5zM1360 133h5v1h-5zM1277 382h2v1h-2zM1394 382h2v1h-2zM1330 396h13v1h-13zM1275 145h2v1h-2zM1396 145h2v1h-2zM1279 383h2v1h-2zM1392 383h2v1h-2zM1283 141h3v1h-3zM1387 141h3v1h-3zM1271 379h2v1h-2zM1400 379h2v1h-2zM1313 394h6v1h-6zM1354 394h6v1h-6zM1281 142h2v1h-2zM1390 142h2v1h-2zM1291 388h3v1h-3zM1379 388h3v1h-3zM1271 147h2v1h-2zM1400 147h2v1h-2zM1279 143h2v1h-2zM1392 143h2v1h-2zM1286 140h2v1h-2zM1385 140h2v1h-2zM1281 384h2v1h-2zM1390 384h2v1h-2zM1304 134h4v1h-4zM1365 134h4v1h-4zM1297 390h3v1h-3zM1373 390h3v1h-3zM1263 374h2v1h-2zM1408 374h2v1h-2zM1260 372h2v1h-2zM1411 372h2v1h-2zM1245 166h2v1h-2zM1426 166h2v1h-2zM1286 386h2v1h-2zM1385 386h2v1h-2zM1252 366h2v1h-2zM1419 366h2v1h-2zM1266 376h2v1h-2zM1405 376h2v1h-2zM1245 360h2v1h-2zM1426 360h2v1h-2zM1257 156h2v1h-2zM1414 156h2v1h-2zM1263 152h2v1h-2zM1408 152h2v1h-2zM1294 389h3v1h-3zM1376 389h3v1h-3zM1277 144h2v1h-2zM1394 144h2v1h-2zM1273 146h2v1h-2zM1398 146h2v1h-2zM1268 377h2v1h-2zM1403 377h2v1h-2zM1248 164h1v1h-1zM1248 362h1v1h-1zM1424 164h1v1h-1zM1424 362h1v1h-1zM1219 200h1v2h-1zM1219 325h1v2h-1zM1453 200h1v2h-1zM1453 325h1v2h-1zM1218 202h1v2h-1zM1218 323h1v2h-1zM1454 202h1v2h-1zM1454 323h1v2h-1zM1208 227h1v4h-1zM1208 296h1v4h-1zM1464 227h1v4h-1zM1464 296h1v4h-1zM1210 221h1v3h-1zM1210 303h1v3h-1zM1462 221h1v3h-1zM1462 303h1v3h-1zM1254 159h1v1h-1zM1254 367h1v1h-1zM1418 159h1v1h-1zM1418 367h1v1h-1zM1229 184h1v2h-1zM1229 341h1v2h-1zM1443 184h1v2h-1zM1443 341h1v2h-1zM1223 193h1v2h-1zM1223 332h1v2h-1zM1449 193h1v2h-1zM1449 332h1v2h-1zM1237 175h1v1h-1zM1237 351h1v1h-1zM1435 175h1v1h-1zM1435 351h1v1h-1zM1205 240h1v6h-1zM1205 281h1v6h-1zM1467 240h1v6h-1zM1467 281h1v6h-1zM1206 235h1v5h-1zM1206 287h1v5h-1zM1466 235h1v5h-1zM1466 287h1v5h-1zM1204 246h1v11h-1zM1204 270h1v11h-1zM1468 246h1v11h-1zM1468 270h1v11h-1zM1236 176h1v1h-1zM1236 350h1v1h-1zM1436 176h1v1h-1zM1436 350h1v1h-1zM1212 215h1v3h-1zM1212 309h1v3h-1zM1460 215h1v3h-1zM1460 309h1v3h-1zM1215 208h1v2h-1zM1215 317h1v2h-1zM1457 208h1v2h-1zM1457 317h1v2h-1zM1235 177h1v1h-1zM1235 349h1v1h-1zM1437 177h1v1h-1zM1437 349h1v1h-1zM1209 224h1v3h-1zM1209 300h1v3h-1zM1463 224h1v3h-1zM1463 300h1v3h-1zM1211 218h1v3h-1zM1211 306h1v3h-1zM1461 218h1v3h-1zM1461 306h1v3h-1zM1238 174h1v1h-1zM1238 352h1v1h-1zM1434 174h1v1h-1zM1434 352h1v1h-1zM1213 213h1v2h-1zM1213 312h1v2h-1zM1459 213h1v2h-1zM1459 312h1v2h-1zM1249 163h1v1h-1zM1249 363h1v1h-1zM1423 163h1v1h-1zM1423 363h1v1h-1zM1234 178h1v1h-1zM1234 348h1v1h-1zM1438 178h1v1h-1zM1438 348h1v1h-1zM1243 168h1v1h-1zM1243 358h1v1h-1zM1429 168h1v1h-1zM1429 358h1v1h-1zM1221 197h1v1h-1zM1221 329h1v1h-1zM1451 197h1v1h-1zM1451 329h1v1h-1zM1227 187h1v2h-1zM1227 338h1v2h-1zM1445 187h1v2h-1zM1445 338h1v2h-1zM1250 162h1v1h-1zM1250 364h1v1h-1zM1422 162h1v1h-1zM1422 364h1v1h-1zM1217 204h1v2h-1zM1217 321h1v2h-1zM1455 204h1v2h-1zM1455 321h1v2h-1zM1225 190h1v2h-1zM1225 335h1v2h-1zM1447 190h1v2h-1zM1447 335h1v2h-1zM1220 198h1v2h-1zM1220 327h1v2h-1zM1452 198h1v2h-1zM1452 327h1v2h-1zM1207 231h1v4h-1zM1207 292h1v4h-1zM1465 231h1v4h-1zM1465 292h1v4h-1zM1241 170h1v1h-1zM1241 356h1v1h-1zM1431 170h1v1h-1zM1431 356h1v1h-1zM1203 257h1v13h-1zM1469 257h1v13h-1zM1224 192h1v1h-1zM1224 334h1v1h-1zM1448 192h1v1h-1zM1448 334h1v1h-1zM1240 171h1v1h-1zM1240 355h1v1h-1zM1432 171h1v1h-1zM1432 355h1v1h-1zM1216 206h1v2h-1zM1216 319h1v2h-1zM1456 206h1v2h-1zM1456 319h1v2h-1zM1239 172h1v2h-1zM1239 353h1v2h-1zM1433 172h1v2h-1zM1433 353h1v2h-1zM1265 151h1v1h-1zM1265 375h1v1h-1zM1407 151h1v1h-1zM1407 375h1v1h-1zM1233 179h1v2h-1zM1233 346h1v2h-1zM1439 179h1v2h-1zM1439 346h1v2h-1zM1228 186h1v1h-1zM1228 340h1v1h-1zM1444 186h1v1h-1zM1444 340h1v1h-1zM1251 161h1v1h-1zM1251 365h1v1h-1zM1421 161h1v1h-1zM1421 365h1v1h-1zM1255 158h1v1h-1zM1255 368h1v1h-1zM1417 158h1v1h-1zM1417 368h1v1h-1zM1244 167h1v1h-1zM1244 359h1v1h-1zM1428 167h1v1h-1zM1428 359h1v1h-1zM1259 155h1v1h-1zM1259 371h1v1h-1zM1413 155h1v1h-1zM1413 371h1v1h-1zM1214 210h1v3h-1zM1214 314h1v3h-1zM1458 210h1v3h-1zM1458 314h1v3h-1zM1232 181h1v1h-1zM1232 345h1v1h-1zM1440 181h1v1h-1zM1440 345h1v1h-1zM1226 189h1v1h-1zM1226 337h1v1h-1zM1446 189h1v1h-1zM1446 337h1v1h-1zM1231 182h1v1h-1zM1231 344h1v1h-1zM1441 182h1v1h-1zM1441 344h1v1h-1zM1256 157h1v1h-1zM1256 369h1v1h-1zM1416 157h1v1h-1zM1416 369h1v1h-1zM1222 195h1v2h-1zM1222 330h1v2h-1zM1450 195h1v2h-1zM1450 330h1v2h-1zM1230 183h1v1h-1zM1230 343h1v1h-1zM1442 183h1v1h-1zM1442 343h1v1h-1zM1270 148h1v1h-1zM1270 378h1v1h-1zM1402 148h1v1h-1zM1402 378h1v1h-1zM1262 153h1v1h-1zM1262 373h1v1h-1zM1410 153h1v1h-1zM1410 373h1v1h-1zM1247 165h1v1h-1zM1247 361h1v1h-1zM1425 165h1v1h-1zM1425 361h1v1h-1z" fill="#000" stroke="none"/>
<rect x="1244.5" y="165.5" width="296" height="297" stroke="#ff00ff" stroke-width="1"/>
<rect x="1245.5" y="165.5" width="296" height="297" stroke="#ff00ff" stroke-width="1"/>
<rect x="1308.5" y="235.5" width="56" height="55" stroke="#ff00ff" stroke-width="1"/>
<rect x="1370.5" y="282.5" width="56" height="56" stroke="#ff00ff" stroke-width="1"/>
<rect x="1371.5" y="282.5" width="55" height="56" stroke="#ff00ff" stroke-width="1"/>
<rect x="1372.5" y="283.5" width="56" height="56" stroke="#ff00ff" stroke-width="1"/>
</g>
<polygon fill="#ff0000" shape-rendering="crispEdges" points="1230.5,225 1233.3,233 1240.0,233.25 1235.0,238.5 1237.75,246.75 1230.5,242 1223.25,246.75 1226.0,238.5 1220.0,233.25 1227.7,233"/>
<polygon fill="#ff0000" shape-rendering="crispEdges" points="1390.5,243 1393.3,251 1400.0,251.25 1395.0,256.5 1397.75,264.75 1390.5,260 1383.25,264.75 1386.0,256.5 1380.0,251.25 1387.7,251"/>
<polygon fill="#ff0000" shape-rendering="crispEdges" points="1343.5,285 1346.3,293 1353.0,293.25 1348.0,298.5 1350.75,306.75 1343.5,302 1336.25,306.75 1339.0,298.5 1333.0,293.25 1340.7,293"/>
<polygon fill="#ff0000" shape-rendering="crispEdges" points="1381.5,285 1384.3,293 1391.0,293.25 1386.0,298.5 1388.75,306.75 1381.5,302 1374.25,306.75 1377.0,298.5 1371.0,293.25 1378.7,293"/>
<polygon fill="#ff0000" shape-rendering="crispEdges" points="1403.5,289 1406.3,297 1413.0,297.25 1408.0,302.5 1410.75,310.75 1403.5,306 1396.25,310.75 1399.0,302.5 1393.0,297.25 1400.7,297"/>
<defs><filter id="thr" x="0" y="0" width="1600" height="1200" filterUnits="userSpaceOnUse" color-interpolation-filters="sRGB"><feComponentTransfer><feFuncA type="discrete" tableValues="0 0 0 1 1 1 1 1 1 1"/></feComponentTransfer></filter></defs>
<g filter="url(#thr)">
<text transform="translate(212.234,43) scale(1.0211,1)" font-size="30.4" font-weight="normal">Time Interval: 26-Jun-2025 09:00:00 to 26-Jun-2025 10:00:00</text>
<text transform="translate(213.234,43) scale(1.0211,1)" font-size="30.4" font-weight="normal">Time Interval: 26-Jun-2025 09:00:00 to 26-Jun-2025 10:00:00</text>
<text transform="translate(87.970,117) scale(1.0152,1)" font-size="24.5" font-weight="normal">Be_thick</text>
<text transform="translate(88.570,117) scale(1.0152,1)" font-size="24.5" font-weight="normal">Be_thick</text>
<text transform="translate(96.200,164) scale(1.0169,1)" font-size="24.5" font-weight="normal">Al_thick</text>
<text transform="translate(96.800,164) scale(1.0169,1)" font-size="24.5" font-weight="normal">Al_thick</text>
<text transform="translate(99.000,210) scale(1.0110,1)" font-size="24.5" font-weight="normal">Al_med</text>
<text transform="translate(99.600,210) scale(1.0110,1)" font-size="24.5" font-weight="normal">Al_med</text>
<text transform="translate(89.758,256) scale(1.0211,1)" font-size="24.5" font-weight="normal">Be_med</text>
<text transform="translate(90.358,256) scale(1.0211,1)" font-size="24.5" font-weight="normal">Be_med</text>
<text transform="translate(98.767,303) scale(1.0164,1)" font-size="24.5" font-weight="normal">Be_thin</text>
<text transform="translate(99.367,303) scale(1.0164,1)" font-size="24.5" font-weight="normal">Be_thin</text>
<text transform="translate(105.536,349) scale(1.0114,1)" font-size="24.5" font-weight="normal">C_poly</text>
<text transform="translate(106.136,349) scale(1.0114,1)" font-size="24.5" font-weight="normal">C_poly</text>
<text transform="translate(102.493,396) scale(1.0147,1)" font-size="24.5" font-weight="normal">Ti_poly</text>
<text transform="translate(103.093,396) scale(1.0147,1)" font-size="24.5" font-weight="normal">Ti_poly</text>
<text transform="translate(101.000,442) scale(1.0143,1)" font-size="24.5" font-weight="normal">Al_poly</text>
<text transform="translate(101.600,442) scale(1.0143,1)" font-size="24.5" font-weight="normal">Al_poly</text>
<text transform="translate(86.000,488) scale(1.0176,1)" font-size="24.5" font-weight="normal">Al_mesh</text>
<text transform="translate(86.600,488) scale(1.0176,1)" font-size="24.5" font-weight="normal">Al_mesh</text>
<text transform="translate(108.739,535) scale(1.0092,1)" font-size="24.5" font-weight="normal">Gband</text>
<text transform="translate(109.339,535) scale(1.0092,1)" font-size="24.5" font-weight="normal">Gband</text>
<text transform="translate(128.169,589) scale(1.0155,1)" font-size="24.5" font-weight="normal">M1.0</text>
<text transform="translate(128.669,589) scale(1.0155,1)" font-size="24.5" font-weight="normal">M1.0</text>
<text transform="translate(130.517,851) scale(1.0263,1)" font-size="24.5" font-weight="normal">C1.0</text>
<text transform="translate(131.117,851) scale(1.0263,1)" font-size="24.5" font-weight="normal">C1.0</text>
<text transform="translate(131.745,1110) scale(1.0274,1)" font-size="24.5" font-weight="normal">B1.0</text>
<text transform="translate(132.345,1110) scale(1.0274,1)" font-size="24.5" font-weight="normal">B1.0</text>
<text transform="translate(160.776,1151) scale(1.0245,1)" font-size="24.5" font-weight="normal">09:00</text>
<text transform="translate(161.376,1151) scale(1.0245,1)" font-size="24.5" font-weight="normal">09:00</text>
<text transform="translate(308.776,1151) scale(1.0245,1)" font-size="24.5" font-weight="normal">09:10</text>
<text transform="translate(309.376,1151) scale(1.0245,1)" font-size="24.5" font-weight="normal">09:10</text>
<text transform="translate(456.776,1151) scale(1.0245,1)" font-size="24.5" font-weight="normal">09:20</text>
<text transform="translate(457.376,1151) scale(1.0245,1)" font-size="24.5" font-weight="normal">09:20</text>
<text transform="translate(604.776,1151) scale(1.0245,1)" font-size="24.5" font-weight="normal">09:30</text>
<text transform="translate(605.376,1151) scale(1.0245,1)" font-size="24.5" font-weight="normal">09:30</text>
<text transform="translate(752.776,1151) scale(1.0245,1)" font-size="24.5" font-weight="normal">09:40</text>
<text transform="translate(753.376,1151) scale(1.0245,1)" font-size="24.5" font-weight="normal">09:40</text>
<text transform="translate(900.776,1151) scale(1.0245,1)" font-size="24.5" font-weight="normal">09:50</text>
<text transform="translate(901.376,1151) scale(1.0245,1)" font-size="24.5" font-weight="normal">09:50</text>
<text transform="translate(1048.399,1151) scale(1.0291,1)" font-size="24.5" font-weight="normal">10:00</text>
<text transform="translate(1048.999,1151) scale(1.0291,1)" font-size="24.5" font-weight="normal">10:00</text>
<text transform="translate(101,897.688) rotate(-90) scale(0.9501,1)" font-size="26" font-weight="normal">GOES flux</text>
<text transform="translate(101,898.188) rotate(-90) scale(0.9501,1)" font-size="26" font-weight="normal">GOES flux</text>
<text transform="translate(1215.491,255) scale(1.0354,1)" font-size="13" font-weight="bold">4122</text>
<text transform="translate(1375.639,273) scale(1.0429,1)" font-size="13" font-weight="bold">4120</text>
<text transform="translate(1328.643,315) scale(1.0265,1)" font-size="13" font-weight="bold">4121</text>
<text transform="translate(1365.743,315) scale(1.0265,1)" font-size="13" font-weight="bold">4118</text>
<text transform="translate(1387.741,319) scale(1.0357,1)" font-size="13" font-weight="bold">4117</text>
</g>
</svg>
</body></html>
